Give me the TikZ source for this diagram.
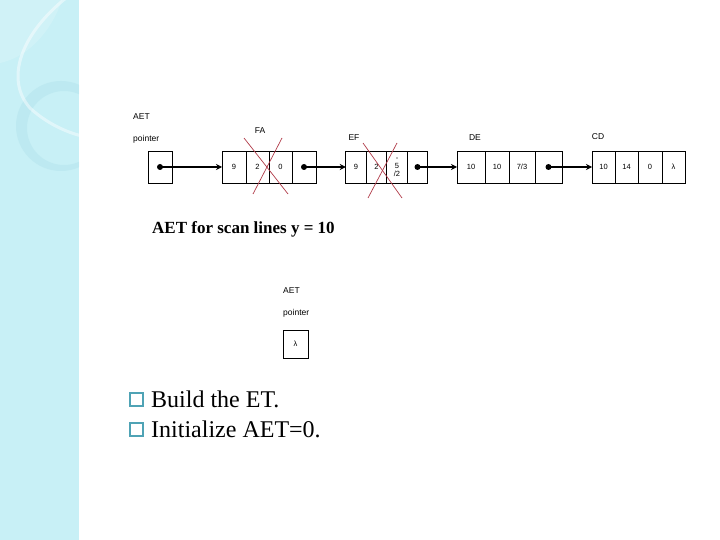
\documentclass[tikz,border=0pt]{standalone}
\usepackage{fontspec}
\setmainfont{Liberation Serif}
\newfontfamily\cellfont{Liberation Sans}
\usetikzlibrary{arrows.meta,positioning}
\definecolor{panelCyan}{HTML}{C8F0F6}
\definecolor{ringCyan}{HTML}{A9DEE8}
\definecolor{crossRed}{HTML}{B03A48}
\definecolor{boxTeal}{HTML}{4FA3B5}

\begin{document}
\begin{tikzpicture}[x=1pt, y=-1pt, >=Stealth,
  cell/.style={draw,line width=0.8pt,minimum height=32pt,inner sep=0pt,outer sep=0pt,
    font=\cellfont\fontsize{7.5}{9}\selectfont},
  lbl/.style={font=\cellfont\fontsize{8.5}{9}\selectfont,inner sep=0pt},
  ptr/.style={line width=1.6pt,-{Stealth[length=6pt,width=6pt]}},
  dot/.style={circle,fill,inner sep=0pt,minimum size=6pt},
  xline/.style={crossRed,line width=0.7pt},
  sqbox/.style={draw=boxTeal,line width=1.2pt,minimum size=13pt,inner sep=0pt}]
\useasboundingbox (0,0) rectangle (720,540);
% --- side panel ---
\fill[panelCyan] (0,0) rectangle (79,540);
\begin{scope}
  \clip (0,0) rectangle (79,540);
  \fill[white,opacity=0.15] (0,0) -- (62,0) .. controls (50,35) and (25,58) .. (0,63) -- cycle;
  \fill[ringCyan,opacity=0.35,even odd rule] (61,126) circle (45) (64,128) circle (37);
  \draw[white,opacity=0.45,line width=3pt] (66,-2) .. controls (20,35) and (5,80) .. (30,108)
    .. controls (45,122) and (65,132) .. (82,136);
\end{scope}
% --- AET with edges FA, EF, DE, CD ---
\node[lbl,anchor=west] (aet) at (133,117) {AET};
\node[lbl,anchor=west] (aetp) at (133,139) {pointer};
\node[cell,minimum width=24pt] (p0) at (160,167) {};
\node[dot] (p0d) at (p0.center) {};
% FA
\node[cell,minimum width=24pt] (fa1) at (234,167) {9};
\node[cell,minimum width=23pt,right=0pt of fa1] (fa2) {2};
\node[cell,minimum width=23pt,right=0pt of fa2] (fa3) {0};
\node[cell,minimum width=24pt,right=0pt of fa3] (fa4) {};
\node[dot] (fa4d) at (fa4.center) {};
\node[lbl] (faL) at (260,131) {FA};
% EF
\node[cell,minimum width=20.5pt] (ef1) at (356,167) {9};
\node[cell,minimum width=20.5pt,right=0pt of ef1] (ef2) {2};
\node[cell,minimum width=20.5pt,right=0pt of ef2,align=center] (ef3) {-\\[-1pt]5\\[-1pt]/2};
\node[cell,minimum width=20.5pt,right=0pt of ef3] (ef4) {};
\node[dot] (ef4d) at (ef4.center) {};
\node[lbl] (efL) at (354,138) {EF};
% DE
\node[cell,minimum width=28pt] (de1) at (471,167) {10};
\node[cell,minimum width=24pt,right=0pt of de1] (de2) {10};
\node[cell,minimum width=26pt,right=0pt of de2] (de3) {7/3};
\node[cell,minimum width=27pt,right=0pt of de3] (de4) {};
\node[dot] (de4d) at (de4.center) {};
\node[lbl] (deL) at (475,138) {DE};
% CD
\node[cell,minimum width=23pt] (cd1) at (603.5,167) {10};
\node[cell,minimum width=23pt,right=0pt of cd1] (cd2) {14};
\node[cell,minimum width=24pt,right=0pt of cd2] (cd3) {0};
\node[cell,minimum width=23pt,right=0pt of cd3] (cd4) {λ};
\node[lbl] (cdL) at (598,137) {CD};
% links
\draw[ptr] (p0d.center) -- (fa1.west);
\draw[ptr] (fa4d.center) -- (ef1.west);
\draw[ptr] (ef4d.center) -- (de1.west);
\draw[ptr] (de4d.center) -- (cd1.west);
% removed edges
\draw[xline] (244,138) -- (288,194);
\draw[xline] (282,138) -- (253,194);
\draw[xline] (363,143) -- (402,198);
\draw[xline] (397,143) -- (368,198);
\node[anchor=west,inner sep=0pt,font=\bfseries\fontsize{17}{19}\selectfont] (cap) at (152,229) {AET for scan lines y = 10};
% --- empty AET ---
\node[lbl,anchor=west] (aet2) at (283,291) {AET};
\node[lbl,anchor=west] (aet2p) at (283,313) {pointer};
\node[cell,minimum width=25pt,minimum height=28pt] (q0) at (295.5,344) {λ};
% --- bullets ---
\node[sqbox] (sq1) at (136.5,399.5) {};
\node[anchor=base west,inner sep=0pt,font=\fontsize{24}{28}\selectfont] (b1) at (151,407) {Build the ET.};
\node[sqbox] (sq2) at (136.5,429.5) {};
\node[anchor=base west,inner sep=0pt,font=\fontsize{24}{28}\selectfont] (b2) at (151,437) {Initialize AET=0.};
\end{tikzpicture}
\end{document}
